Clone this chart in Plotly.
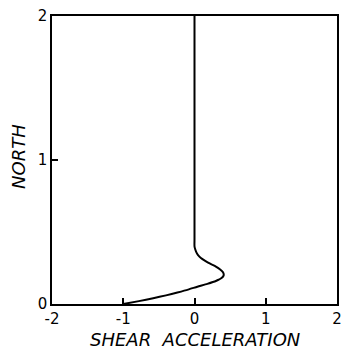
import plotly.graph_objects as go

north = [0.0, 0.02, 0.04, 0.06, 0.08, 0.10, 0.12, 0.14, 0.16, 0.18, 0.20, 0.22, 0.24,
         0.26, 0.28, 0.30, 0.32, 0.34, 0.36, 0.38, 0.40, 0.45, 2.0]
shear = [-1.0, -0.78, -0.58, -0.40, -0.24, -0.09, 0.04, 0.18, 0.30, 0.38, 0.41, 0.40,
         0.36, 0.30, 0.22, 0.15, 0.09, 0.05, 0.025, 0.01, 0.0, 0.0, 0.0]
tick_vals = [-2, -1, 0, 1, 2]
y_tick_vals = [0, 1, 2]

fig = go.Figure()
fig.add_trace(go.Scatter(x=shear, y=north, mode="lines",
                         line=dict(color="black", width=2, shape="spline", smoothing=0.6),
                         showlegend=False))

font = dict(family="DejaVu Sans, Liberation Sans, sans-serif", color="black")
fig.update_layout(
    width=341, height=350,
    margin=dict(l=52, r=4, t=16, b=46),
    plot_bgcolor="white", paper_bgcolor="white",
    xaxis=dict(range=[-2, 2], tickvals=tick_vals, ticktext=["-2", "-1", "0", "1", "2"],
               ticks="inside", ticklen=6, tickwidth=1.5, tickcolor="black",
               showline=True, linecolor="black", linewidth=1.5, mirror=True,
               showgrid=False, zeroline=False, automargin=False,
               ticklabeloverflow="allow",
               tickfont=dict(size=15, **font)),
    yaxis=dict(range=[0, 2], tickvals=y_tick_vals, ticktext=["0", "1", "2"],
               ticks="inside", ticklen=6, tickwidth=1.5, tickcolor="black",
               showline=True, linecolor="black", linewidth=1.5, mirror=True,
               showgrid=False, zeroline=False, automargin=False,
               ticklabeloverflow="allow",
               tickfont=dict(size=15, **font)),
    annotations=[
        dict(text="<i>SHEAR  ACCELERATION</i>", xref="paper", yref="paper",
             x=0.5, y=0, yshift=-35, xanchor="center", yanchor="middle", showarrow=False,
             font=dict(size=18, **font)),
        dict(text="<i>NORTH</i>", xref="paper", yref="paper",
             x=0, y=0.5, xshift=-34, yshift=3, xanchor="center", yanchor="middle", showarrow=False,
             textangle=-90, font=dict(size=18, **font)),
    ],
)
fig.write_html("out.html", config={"displayModeBar": False},
               post_script="document.body.style.margin='0';document.body.style.overflow='hidden';")
